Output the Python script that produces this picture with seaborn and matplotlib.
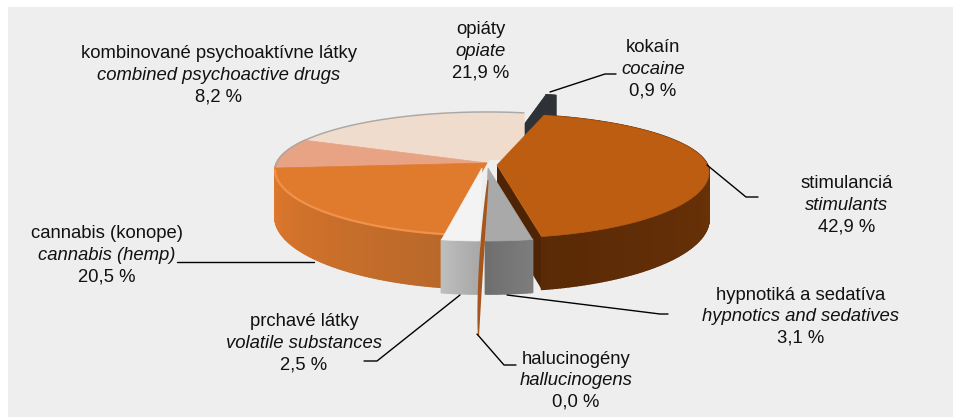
import numpy as np
import matplotlib
matplotlib.use("Agg")
import matplotlib.pyplot as plt
import seaborn as sns

# ---- data (clockwise from the back of the pie) ----
names_sk = ["kokaín", "stimulanciá", "hypnotiká a sedatíva", "halucinogény",
            "prchavé látky", "cannabis (konope)",
            "kombinované psychoaktívne látky", "opiáty"]
names_en = ["cocaine", "stimulants", "hypnotics and sedatives", "hallucinogens",
            "volatile substances", "cannabis (hemp)",
            "combined psychoactive drugs", "opiate"]
shares = [0.9, 42.9, 3.1, 0.0, 2.5, 20.5, 8.2, 21.9]
value_labels = ["0,9 %", "42,9 %", "3,1 %", "0,0 %", "2,5 %", "20,5 %", "8,2 %", "21,9 %"]

# ---- styling ----
top_colors = ["#2E3135", "#BD5D12", "#A9A9A9", "#A5561C", "#F3F3F3", "#E07A2D", "#E8A385", "#F0DCCC"]
side_a = ["#2E3135", "#5A2A06", "#6F6F6F", "#A5561C", "#BDBDBD", "#E0782C", "#E8A385", "#F0DCCC"]
side_b = ["#2E3135", "#6E3408", "#7D7D7D", "#A5561C", "#A8A8A8", "#B9682A", "#E8A385", "#F0DCCC"]
offsets = [(22, -18), (10, 2), (1, 5), (0, 0), (-5, 5), (0, 0), (0, 0), (0, 0)]
label_xy = [(653, 69), (847, 205), (801, 316.5), (576, 380.5), (304, 343), (107, 255.5), (219, 75.5), (481, 51.5)]
leaders = [[(550, 92), (605, 74), (616, 74)],
           [(707, 165), (746, 197), (758, 197)],
           [(507, 295), (660, 314), (668, 314)],
           [(477, 334), (504, 365), (516, 365)],
           [(460, 295), (377, 361), (364, 361)],
           [(314, 262), (177, 262)]]

sns.set_theme(style="white", rc={"axes.facecolor": "#EEEEEE", "figure.facecolor": "white"})
plt.rcParams["font.family"] = ["Liberation Sans", "DejaVu Sans"]
palette = sns.color_palette(top_colors)

W, H = 954, 417
fig = plt.figure(figsize=(W / 100, H / 100), dpi=100)
ax = fig.add_axes([8 / W, 0, 1 - 8 / W, 1 - 7 / H])
ax.set_xlim(8, W)
ax.set_ylim(H, 7)
ax.axis("off")
ax.add_patch(plt.Rectangle((8, 7), W - 8, H - 7, fc="#EEEEEE", ec="none", zorder=0))

AX0, AY0 = 487.0, 163.0
RX, B_BACK, B_FRONT, DROP = 212.0, 58.0, 66.0, 7.0
START = 11.76


def warp(t):
    """perspective: slices at the front look wider than those at the back"""
    return t - 0.15 * np.degrees(np.sin(np.radians(t)))


def rim(t, off):
    tp = np.radians(warp(np.asarray(t, float)))
    c = np.cos(tp)
    y = AY0 + DROP - np.where(c > 0, B_BACK, B_FRONT) * c
    return AX0 + RX * np.sin(tp) + off[0], y + off[1]


def depth(t):
    return 47 + 6 * np.clip(-np.cos(np.radians(warp(np.asarray(t, float)))), 0, 1)


def mix(a, b, f):
    a, b = np.array(matplotlib.colors.to_rgb(a)), np.array(matplotlib.colors.to_rgb(b))
    return tuple(a + (b - a) * f)


angles = np.cumsum([0] + [v * 3.6 for v in shares]) + START
order = [0, 7, 6, 5, 1, 4, 2]
z = 2
for i in order:
    t0, t1 = angles[i], angles[i + 1]
    off = offsets[i]
    ts = np.linspace(t0, t1, max(int((t1 - t0) * 1.5) + 2, 4))
    x, y = rim(ts, off)
    d = depth(ts)
    apex = (AX0 + off[0], AY0 + off[1])
    # cut face of the separated large slice and of the lifted cocaine slice
    if i == 1:
        ax.fill([apex[0], x[-1], x[-1], apex[0]], [apex[1], y[-1], y[-1] + d[-1], apex[1] + 50],
                color="#4E2405", lw=0, zorder=z)
    if i == 0:
        ax.fill([apex[0], x[0], x[0], apex[0]], [apex[1], y[0], y[0] + d[0], apex[1] + 50],
                color=palette[0], lw=0, zorder=z)
    # outer wall, shaded in strips along the rim
    for k in range(len(ts) - 1):
        f = k / (len(ts) - 2) if len(ts) > 2 else 0
        if i == 1:
            col = mix(side_b[i], side_a[i], np.clip(1 - abs(ts[k] - 170) / 90, 0, 1))
        else:
            col = mix(side_a[i], side_b[i], 1 - f)
        ax.fill([x[k], x[k + 1], x[k + 1], x[k]],
                [y[k], y[k + 1], y[k + 1] + d[k + 1], y[k] + d[k]],
                fc=col, ec=col, lw=1.2, joinstyle="round", zorder=z)
    # top face
    ax.fill(np.r_[apex[0], x], np.r_[apex[1], y], fc=palette[i], ec=palette[i], lw=0.5, zorder=z + 0.5)
    if i == 5:
        mask = ts < 262
        ax.plot(x[mask], y[mask] - 0.5, color="#F0924A", lw=1.6, zorder=z + 0.6, solid_capstyle="round")
    if i in (6, 7):
        ax.plot(x, y, color="#A8A8A8", lw=1.0, zorder=z + 0.6)
    z += 1

# the 0,0 % slice: only a thin exploded sliver
t_h = angles[3]
rx, ry = rim(t_h, (0, 0))
tip_x, tip_y = float(rx) - 6, float(ry) + float(depth(t_h)) + 47
u = np.linspace(0, 1, 40)
cx = AX0 + 1 + (tip_x - AX0 - 1) * (1 - (1 - u) ** 1.6)
cy = AY0 + 17 + (tip_y - AY0 - 17) * u
w = 0.5 + 1.7 * np.sin(np.pi * u) ** 0.7
ax.fill(np.r_[cx - w, (cx + w)[::-1]], np.r_[cy, cy[::-1]], fc=palette[3], ec="none", zorder=z)
z += 1

for pts in leaders:
    xs, ys = zip(*pts)
    ax.plot(xs, ys, color="black", lw=1.0, zorder=z)

FS = 13.3
for i, (lx, ly) in enumerate(label_xy):
    ax.text(lx, ly - 21.5, names_sk[i], ha="center", va="center", fontsize=FS, color="#111111", zorder=z)
    ax.text(lx, ly, names_en[i], ha="center", va="center", fontsize=FS, style="italic", color="#111111", zorder=z)
    ax.text(lx, ly + 21.5, value_labels[i], ha="center", va="center", fontsize=FS, color="#111111", zorder=z)

fig.savefig("out.png", dpi=100)
